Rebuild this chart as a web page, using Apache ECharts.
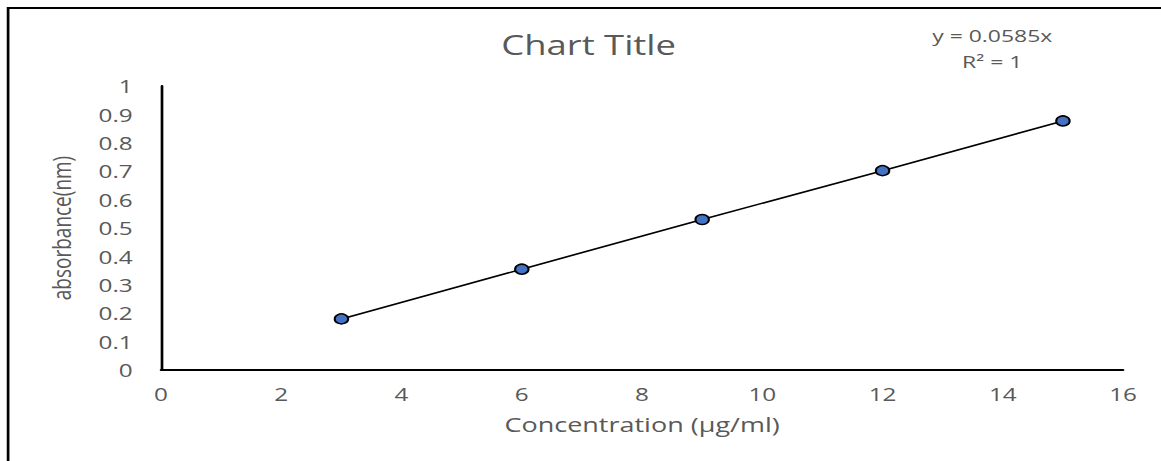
<!DOCTYPE html>
<html>
<head>
<meta charset="utf-8">
<script src="https://cdn.jsdelivr.net/npm/echarts@6/dist/echarts.min.js"></script>
<style>
  html, body { margin: 0; padding: 0; background: #fff; overflow: hidden; }
  /* the chart is laid out narrower and widened horizontally, giving the stretched look of the export */
  #chart { width: 860px; height: 461px; transform: scaleX(1.35); transform-origin: 0 0; }
</style>
</head>
<body>
<div id="chart"></div>
<script>
// Calibration standards: concentration vs. measured absorbance
const concentration = [3, 6, 9, 12, 15];
const absorbance = [0.18, 0.355, 0.53, 0.702, 0.877];
const xTicks = [0, 2, 4, 6, 8, 10, 12, 14, 16];
const yTicks = [0, 0.1, 0.2, 0.3, 0.4, 0.5, 0.6, 0.7, 0.8, 0.9, 1];
const equationText = 'y = 0.0585x';
const r2Text = 'R² = 1';

const points = concentration.map((c, i) => [c, absorbance[i]]);
const labelColor = '#595959';
const baseFont = '"Open Sans", "Noto Sans", sans-serif';

const chart = echarts.init(document.getElementById('chart'), null, { renderer: 'svg' });
chart.setOption({
  animation: false,
  backgroundColor: '#ffffff',
  title: {
    text: 'Chart Title',
    left: 431,
    top: 26,
    textAlign: 'center',
    textStyle: { fontFamily: baseFont, fontSize: 27, fontWeight: 'normal', color: labelColor }
  },
  graphic: [
    {
      type: 'rect',
      shape: { x: 6, y: 8, width: 1000, height: 500 },
      style: { fill: 'none', stroke: '#000', lineWidth: 2 },
      silent: true
    },
    {
      type: 'text',
      x: 735, y: 35,
      style: { text: equationText, font: '17px ' + baseFont, fill: labelColor, align: 'center', verticalAlign: 'middle' }
    },
    {
      type: 'text',
      x: 735, y: 61,
      style: { text: r2Text, font: '17px ' + baseFont, fill: labelColor, align: 'center', verticalAlign: 'middle' }
    }
  ],
  grid: { left: 119.3, right: 28.1, top: 86, bottom: 91, containLabel: false },
  xAxis: {
    type: 'value',
    min: xTicks[0],
    max: xTicks[xTicks.length - 1],
    interval: 2,
    name: 'Concentration (µg/ml)',
    nameLocation: 'middle',
    nameGap: 44,
    nameTextStyle: { fontFamily: baseFont, fontSize: 20, color: labelColor },
    axisLine: { onZero: false, lineStyle: { color: '#000', width: 2 } },
    axisTick: { show: false },
    splitLine: { show: false },
    axisLabel: { margin: 15, fontFamily: baseFont, fontSize: 18, color: labelColor }
  },
  yAxis: {
    type: 'value',
    min: yTicks[0],
    max: yTicks[yTicks.length - 1],
    interval: 0.1,
    name: 'absorbance(nm)',
    nameLocation: 'middle',
    nameGap: 64,
    nameTextStyle: { fontFamily: baseFont, fontSize: 19, color: labelColor },
    axisLine: { show: true, onZero: false, lineStyle: { color: '#000', width: 2 } },
    axisTick: { show: false },
    splitLine: { show: false },
    axisLabel: {
      margin: 21, fontFamily: baseFont, fontSize: 18, color: labelColor,
      formatter: v => String(Math.round(v * 10) / 10)
    }
  },
  series: [
    {
      type: 'line',
      data: points,
      lineStyle: { color: '#000', width: 1.6 },
      symbol: 'circle',
      symbolSize: 10,
      itemStyle: { color: '#4472C4', borderColor: '#000', borderWidth: 1.5 },
      z: 3
    }
  ]
});
</script>
</body>
</html>
